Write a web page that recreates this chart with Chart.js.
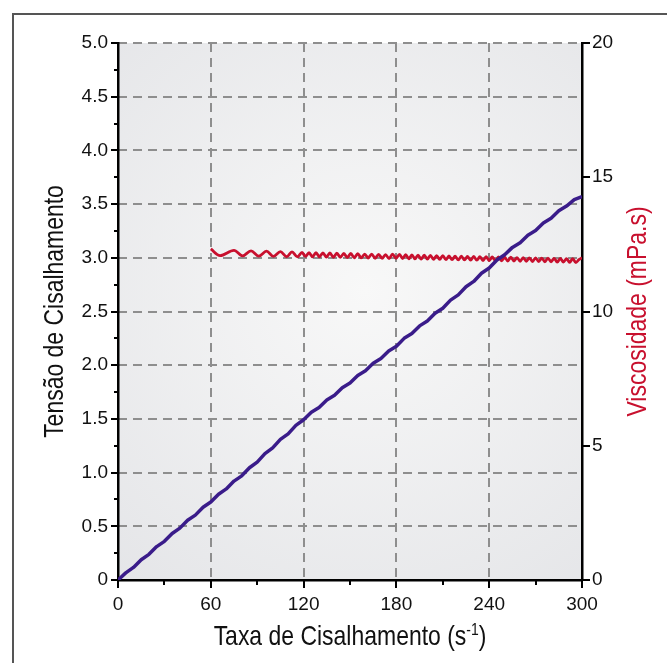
<!DOCTYPE html>
<html>
<head>
<meta charset="utf-8">
<title>Tensão e Viscosidade</title>
<script src="https://cdn.jsdelivr.net/npm/chart.js@4.4.1/dist/chart.umd.min.js"></script>
<style>
    html, body { margin: 0; padding: 0; background: #fff; }
    canvas { display: block; }
</style>
</head>
<body>
<canvas id="rheoChart" width="667" height="663"></canvas>
<script>
// shear stress curve (left axis)
const shearRate = [0, 5, 10, 15, 20, 25, 30, 35, 40, 45, 50, 55, 60, 65, 70, 75, 80, 85, 90, 95,
    100, 105, 110, 115, 120, 125, 130, 135, 140, 145, 150, 155, 160, 165, 170, 175, 180, 185, 190, 195,
    200, 205, 210, 215, 220, 225, 230, 235, 240, 245, 250, 255, 260, 265, 270, 275, 280, 285, 290, 295, 300];
const shearStress = [0.000, 0.066, 0.117, 0.189, 0.239, 0.311, 0.360, 0.433, 0.483, 0.556, 0.604, 0.677, 0.726, 0.799, 0.848, 0.921, 0.970, 1.045, 1.098, 1.177,
    1.230, 1.309, 1.361, 1.440, 1.492, 1.563, 1.607, 1.676, 1.720, 1.790, 1.834, 1.904, 1.948, 2.018, 2.063, 2.133, 2.176, 2.250, 2.295, 2.366,
    2.412, 2.483, 2.531, 2.606, 2.655, 2.731, 2.780, 2.856, 2.905, 2.980, 3.028, 3.097, 3.141, 3.211, 3.254, 3.324, 3.368, 3.438, 3.482, 3.541, 3.570];

// viscosity curve (right axis)
const viscRate = [60, 66, 75, 80.5, 86, 91, 96, 100.5, 105, 109, 112.5, 116, 119,
    121.25, 123.5, 125.75, 128, 130.25, 132.5, 134.75, 137, 139.25, 141.5, 143.75, 146, 148.25, 150.5,
    152.75, 155, 157.25, 159.5, 161.75, 164, 166.25, 168.5, 170.75, 173, 175.25, 177.5, 179.75,
    182, 184, 186, 188, 190, 192, 194, 196, 198, 200, 202, 204, 206, 208, 210, 212, 214, 216, 218, 220,
    222, 224, 226, 228, 230, 232, 234, 236, 238, 240, 242, 244, 246, 248, 250, 252, 254, 256, 258, 260,
    262, 264, 266, 268, 270, 272, 274, 276, 278, 280, 282, 284, 286, 288, 290, 292, 294, 296, 298, 300];
const viscosity = [12.33, 12.08, 12.28, 12.07, 12.26, 12.06, 12.25, 12.05, 12.23, 12.04, 12.22, 12.04, 12.20,
    12.05, 12.19, 12.04, 12.19, 12.04, 12.18, 12.03, 12.18, 12.02, 12.17, 12.02, 12.16, 12.01, 12.16,
    12.00, 12.15, 12.00, 12.14, 11.99, 12.14, 11.98, 12.13, 11.98, 12.12, 11.97, 12.14, 11.98,
    12.13, 11.97, 12.12, 11.96, 12.11, 11.96, 12.10, 11.95, 12.10, 11.95, 12.09, 11.94, 12.08, 11.94, 12.08, 11.93, 12.07, 11.93, 12.06, 11.92,
    12.06, 11.92, 12.05, 11.91, 12.05, 11.91, 12.04, 11.90, 12.04, 11.90, 12.03, 11.89, 12.03, 11.89, 12.02, 11.88, 12.02, 11.88, 12.01, 11.87,
    12.01, 11.87, 12.00, 11.86, 12.00, 11.86, 11.99, 11.85, 11.99, 11.85, 11.98, 11.84, 11.98, 11.84, 11.97, 11.83, 11.97, 11.82, 11.93, 12.00];

// axis ticks
const rateTicks = [0, 60, 120, 180, 240, 300];
const stressTicks = [0, 0.5, 1.0, 1.5, 2.0, 2.5, 3.0, 3.5, 4.0, 4.5, 5.0];
const viscTicks = [0, 5, 10, 15, 20];

const xTitle = "Taxa de Cisalhamento (s";
const xTitleSup = "-1";
const yTitle = "Tensão de Cisalhamento";
const y2Title = "Viscosidade (mPa.s)";

const FONT = "'Liberation Sans', Arial, sans-serif";
const NARROW = 0.82; // squeeze titles to look like a condensed face
const BLUE = "#3a1c8a";
const RED = "#c8102e";

const decorPlugin = {
    id: "decor",
    beforeDraw(chart) {
        const ctx = chart.ctx;
        const area = chart.chartArea;
        const xs = chart.scales.x;
        const ys = chart.scales.y;

        ctx.save();
        ctx.fillStyle = "#fff";
        ctx.fillRect(0, 0, chart.width, chart.height);

        // outer frame (only top and left edges are inside the picture)
        ctx.strokeStyle = "#555";
        ctx.lineWidth = 2;
        ctx.beginPath();
        ctx.moveTo(13, chart.height);
        ctx.lineTo(13, 14);
        ctx.lineTo(chart.width, 14);
        ctx.stroke();

        // plot background
        const g = ctx.createRadialGradient(365, 290, 0, 365, 290, 430);
        g.addColorStop(0, "#f8f8f8");
        g.addColorStop(1, "#e2e3e6");
        ctx.fillStyle = g;
        ctx.fillRect(area.left, area.top, area.right - area.left, area.bottom - area.top);

        // dashed grid
        ctx.strokeStyle = "#8e8e8e";
        ctx.lineWidth = 2;
        ctx.setLineDash([9, 6]);
        stressTicks.forEach(v => {
            if (v === 0) return;
            const py = Math.round(ys.getPixelForValue(v));
            ctx.beginPath();
            ctx.moveTo(area.left, py);
            ctx.lineTo(area.right, py);
            ctx.stroke();
        });
        rateTicks.forEach(v => {
            if (v === xs.min || v === xs.max) return;
            const px = Math.round(xs.getPixelForValue(v));
            ctx.beginPath();
            ctx.moveTo(px, area.top);
            ctx.lineTo(px, area.bottom);
            ctx.stroke();
        });
        ctx.restore();
    },
    afterDraw(chart) {
        const ctx = chart.ctx;
        const area = chart.chartArea;
        const xs = chart.scales.x;
        const ys = chart.scales.y;
        const ys2 = chart.scales.y2;

        ctx.save();
        ctx.strokeStyle = "#000";
        ctx.lineWidth = 2;

        const tick = (x1, y1, x2, y2) => {
            ctx.beginPath();
            ctx.moveTo(x1, y1);
            ctx.lineTo(x2, y2);
            ctx.stroke();
        };

        // left axis: major + minor ticks
        stressTicks.forEach((v, i) => {
            const py = Math.round(ys.getPixelForValue(v));
            tick(area.left - 7, py, area.left, py);
            if (i > 0) {
                const pm = Math.round(ys.getPixelForValue((v + stressTicks[i - 1]) / 2));
                tick(area.left - 4, pm, area.left, pm);
            }
        });
        // bottom axis
        rateTicks.forEach((v, i) => {
            const px = Math.round(xs.getPixelForValue(v));
            tick(px, area.bottom, px, area.bottom + 8);
            if (i > 0) {
                const pm = Math.round(xs.getPixelForValue((v + rateTicks[i - 1]) / 2));
                tick(pm, area.bottom, pm, area.bottom + 5);
            }
        });
        // right axis
        viscTicks.forEach(v => {
            const py = Math.round(ys2.getPixelForValue(v));
            tick(area.right, py, area.right + 8, py);
        });

        // axis titles
        ctx.fillStyle = "#111";
        ctx.textBaseline = "alphabetic";
        ctx.textAlign = "left";
        ctx.font = "28px " + FONT;
        const mainW = ctx.measureText(xTitle).width;
        const closeW = ctx.measureText(")").width;
        ctx.font = "17px " + FONT;
        const supW = ctx.measureText(xTitleSup).width;
        const totalW = (mainW + supW + closeW) * NARROW;

        ctx.save();
        ctx.translate((area.left + area.right) / 2 - totalW / 2, 645);
        ctx.scale(NARROW, 1);
        ctx.font = "28px " + FONT;
        ctx.fillText(xTitle, 0, 0);
        ctx.font = "17px " + FONT;
        ctx.fillText(xTitleSup, mainW, -10);
        ctx.font = "28px " + FONT;
        ctx.fillText(")", mainW + supW, 0);
        ctx.restore();

        const midY = (area.top + area.bottom) / 2;
        ctx.textAlign = "center";
        ctx.font = "28px " + FONT;

        ctx.save();
        ctx.translate(63, midY);
        ctx.rotate(-Math.PI / 2);
        ctx.scale(NARROW, 1);
        ctx.fillText(yTitle, 0, 0);
        ctx.restore();

        ctx.save();
        ctx.fillStyle = RED;
        ctx.translate(646, midY);
        ctx.rotate(-Math.PI / 2);
        ctx.scale(NARROW, 1);
        ctx.fillText(y2Title, 0, 0);
        ctx.restore();

        ctx.restore();
    }
};

function setTicks(list) {
    return scale => {
        scale.ticks = list.map(v => ({ value: v }));
    };
}

function drawRheologyChart() {
    const tickFont = { family: FONT, size: 19 };

    new Chart(document.getElementById("rheoChart"), {
        type: "line",
        data: {
            datasets: [{
                label: yTitle,
                data: shearRate.map((x, i) => ({ x: x, y: shearStress[i] })),
                yAxisID: "y",
                borderColor: BLUE,
                borderWidth: 3.5,
                borderJoinStyle: "round",
                pointRadius: 0,
                tension: 0
            }, {
                label: y2Title,
                data: viscRate.map((x, i) => ({ x: x, y: viscosity[i] })),
                yAxisID: "y2",
                borderColor: RED,
                borderWidth: 2.8,
                borderJoinStyle: "round",
                pointRadius: 0,
                cubicInterpolationMode: "monotone"
            }]
        },
        options: {
            responsive: false,
            animation: false,
            devicePixelRatio: 1,
            layout: { padding: { top: 43, left: 0, right: 0, bottom: 0 } },
            plugins: { legend: { display: false }, tooltip: { enabled: false } },
            scales: {
                x: {
                    type: "linear",
                    min: 0,
                    max: 300,
                    afterBuildTicks: setTicks(rateTicks),
                    afterFit: scale => { scale.height = 83; },
                    grid: { display: false, drawTicks: false },
                    border: { display: true, color: "#000", width: 2.5 },
                    ticks: { font: tickFont, color: "#111", padding: 13, maxRotation: 0, autoSkip: false }
                },
                y: {
                    type: "linear",
                    position: "left",
                    min: 0,
                    max: 5,
                    afterBuildTicks: setTicks(stressTicks),
                    afterFit: scale => { scale.width = 118; },
                    grid: { display: false, drawTicks: false },
                    border: { display: true, color: "#000", width: 2.5 },
                    ticks: {
                        font: tickFont, color: "#111", padding: 10, autoSkip: false,
                        callback: v => v === 0 ? "0" : v.toFixed(1)
                    }
                },
                y2: {
                    type: "linear",
                    position: "right",
                    min: 0,
                    max: 20,
                    afterBuildTicks: setTicks(viscTicks),
                    afterFit: scale => { scale.width = 85; },
                    grid: { display: false, drawTicks: false },
                    border: { display: true, color: "#000", width: 2.5 },
                    ticks: { font: tickFont, color: "#111", padding: 10, autoSkip: false }
                }
            }
        },
        plugins: [decorPlugin]
    });
}

document.addEventListener("DOMContentLoaded", drawRheologyChart);
</script>
</body>
</html>
